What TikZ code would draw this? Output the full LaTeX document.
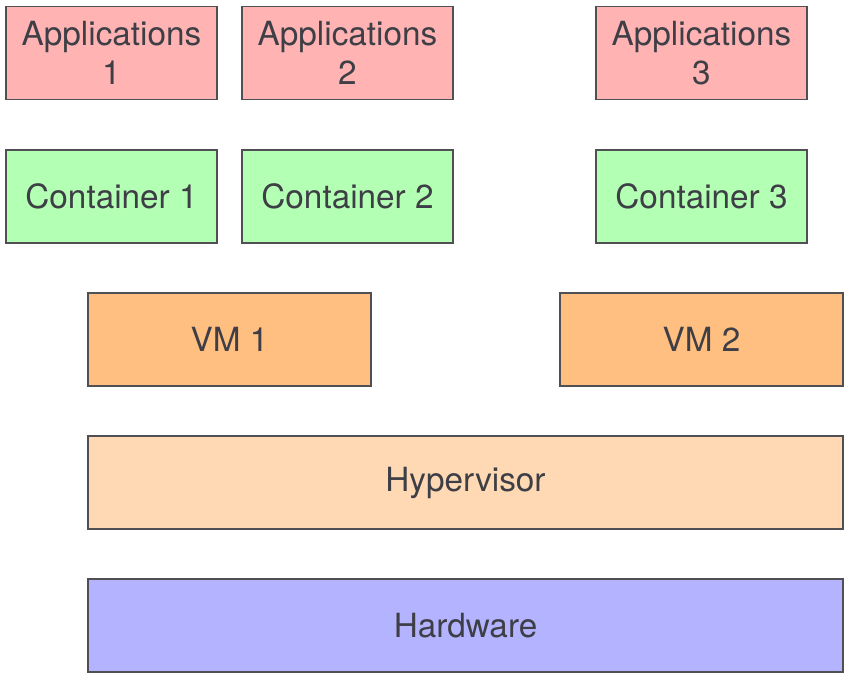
\documentclass[tikz,border=0pt]{standalone}
\usepackage{fontspec}
\setmainfont{TeX Gyre Heros}
\definecolor{txt}{RGB}{62,62,70}
\definecolor{edge}{RGB}{80,80,84}
\definecolor{appc}{RGB}{255,179,179}
\definecolor{contc}{RGB}{179,255,179}
\definecolor{vmc}{RGB}{255,191,128}
\definecolor{hypc}{RGB}{255,217,179}
\definecolor{hwc}{RGB}{179,179,255}
\begin{document}
\begin{tikzpicture}[x=1pt,y=-1pt,
  layer/.style={draw=edge,line width=1.1pt,text=txt,align=center,inner sep=0pt,
    minimum height=93pt,font=\fontsize{33.3}{39}\selectfont},
  small/.style={layer,minimum width=211pt},
  vmbox/.style={layer,minimum width=283pt},
  wide/.style={layer,minimum width=755pt}]
\useasboundingbox (0,0) rectangle (865,678);
\node[small,fill=appc] (a1) at (111.5,53) {Applications\\1};
\node[small,fill=appc] (a2) at (347.5,53) {Applications\\2};
\node[small,fill=appc] (a3) at (701.5,53) {Applications\\3};
\node[small,fill=contc] (c1) at (111.5,196.5) {Container 1};
\node[small,fill=contc] (c2) at (347.5,196.5) {Container 2};
\node[small,fill=contc] (c3) at (701.5,196.5) {Container 3};
\node[vmbox,fill=vmc] (v1) at (229.5,339.5) {VM 1};
\node[vmbox,fill=vmc] (v2) at (701.5,339.5) {VM 2};
\node[wide,fill=hypc] (hy) at (465.5,482.5) {Hypervisor};
\node[wide,fill=hwc] (hw) at (465.5,625.5) {Hardware};
\end{tikzpicture}
\end{document}
